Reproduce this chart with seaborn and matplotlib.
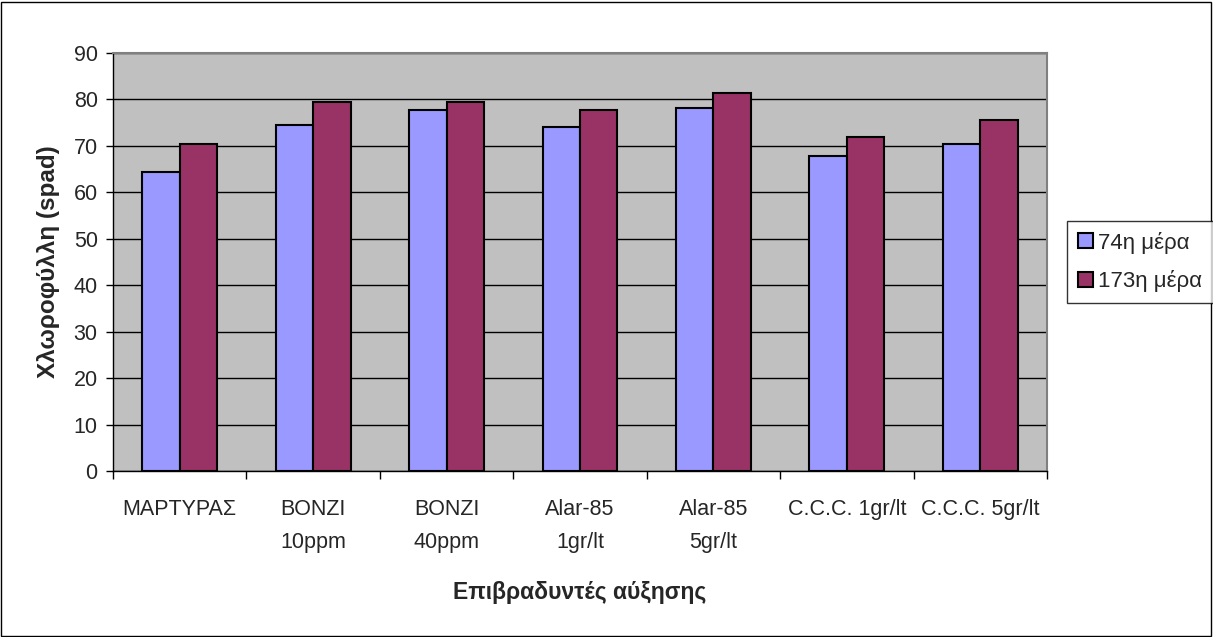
import matplotlib
matplotlib.use("Agg")
import matplotlib.pyplot as plt
import seaborn as sns
import pandas as pd
from matplotlib.patches import Rectangle

categories = ["ΜΑΡΤΥΡΑΣ", "BONZI\n10ppm", "BONZI\n40ppm", "Alar-85\n1gr/lt",
              "Alar-85\n5gr/lt", "C.C.C. 1gr/lt", "C.C.C. 5gr/lt"]
series_names = ["74η μέρα", "173η μέρα"]
day74 = [64.3, 74.6, 77.7, 74.1, 78.1, 67.9, 70.5]
day173 = [70.5, 79.5, 79.5, 77.7, 81.3, 71.9, 75.5]
yticks = list(range(0, 100, 10))

df = pd.DataFrame({
    "cat": categories * 2,
    "series": [series_names[0]] * len(categories) + [series_names[1]] * len(categories),
    "value": day74 + day173,
})

sns.set_theme(style="white")
plt.rcParams['font.family'] = ['Liberation Sans', 'DejaVu Sans']

fig = plt.figure(figsize=(12.13, 6.37), dpi=100)
ax = fig.add_axes([113/1213, 1-471/637, (1047-113)/1213, (471-53)/637])
ax.set_facecolor("#C0C0C0")

sns.barplot(data=df, x="cat", y="value", hue="series", order=categories,
            hue_order=series_names, palette=["#9999FF", "#993366"],
            width=0.562, edgecolor="black", linewidth=1.5, ax=ax, legend=True,
            errorbar=None, saturation=1)

ax.set_ylim(0, 90)
ax.set_xlim(-0.5, len(categories) - 0.5)
ax.set_yticks(yticks)
ax.set_yticklabels([str(t) for t in yticks], fontsize=15.5)
ax.yaxis.grid(True, color="black", linewidth=1)
ax.set_axisbelow(True)
ax.tick_params(axis="y", direction="out", length=5, width=1, color="black", left=True, pad=6)
ax.tick_params(axis="x", which="major", length=0, labelsize=15.5, pad=20.5)
ax.set_xticks([i - 0.5 for i in range(len(categories) + 1)], minor=True)
ax.tick_params(axis="x", which="minor", direction="out", length=6, width=1, color="black", bottom=True)
for lbl in ax.get_xticklabels():
    lbl.set_linespacing(1.75)

for side in ["left", "bottom"]:
    ax.spines[side].set_color("black")
    ax.spines[side].set_linewidth(1)
for side in ["top", "right"]:
    ax.spines[side].set_color("#808080")
    ax.spines[side].set_linewidth(1.5)

ax.set_xlabel("Επιβραδυντές αύξησης", fontsize=16.5, fontweight="bold", labelpad=20)
ax.set_ylabel("Χλωροφύλλη (spad)", fontsize=17.5, fontweight="bold", labelpad=10)

handles, labels = ax.get_legend_handles_labels()
ax.get_legend().remove()
leg = fig.legend(handles, labels, loc="center left",
                 bbox_to_anchor=(1067/1213, 1-262/637), fontsize=16,
                 frameon=True, fancybox=False, edgecolor="black",
                 handlelength=0.65, handleheight=0.65, handletextpad=0.25,
                 labelspacing=0.75, borderpad=0.5, borderaxespad=0)
leg.get_frame().set_linewidth(1)

fig.patches.append(Rectangle((1/1213, 1/637), 1-3/1213, 1-3/637, transform=fig.transFigure,
                             fill=False, edgecolor="black", linewidth=1))

fig.savefig("out.png", dpi=100, facecolor="white")
